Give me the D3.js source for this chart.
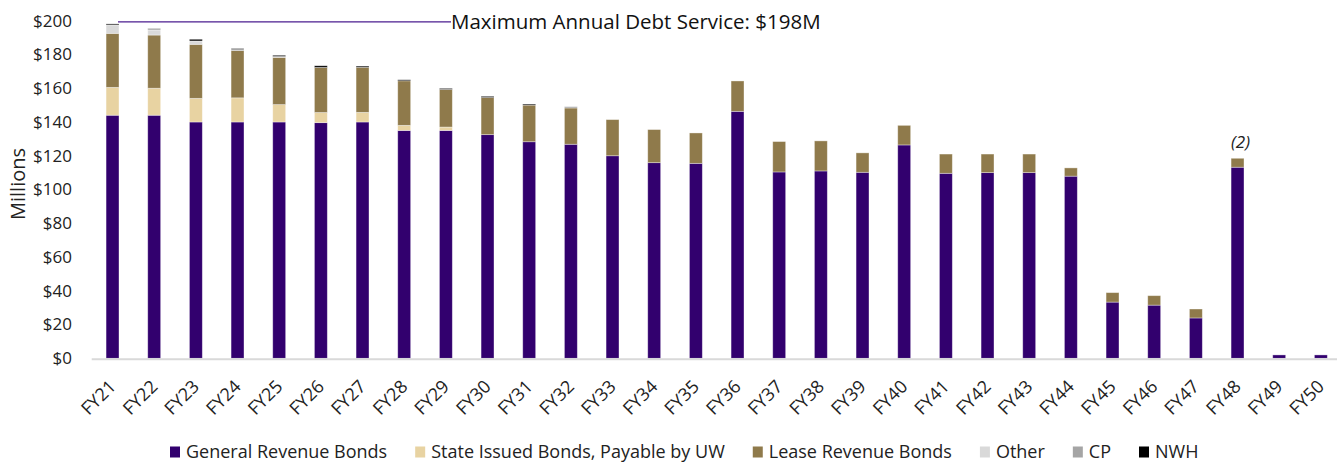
<!DOCTYPE html>
<html>
<head>
<meta charset="utf-8">
<script src="https://cdn.jsdelivr.net/npm/d3@7"></script>
<style>
  body { margin: 0; background: #fff; }
  svg { font-family: "Open Sans", "Noto Sans", sans-serif; }
</style>
</head>
<body>
<div id="chart"></div>
<script>
const years = ['FY21','FY22','FY23','FY24','FY25','FY26','FY27','FY28','FY29','FY30',
  'FY31','FY32','FY33','FY34','FY35','FY36','FY37','FY38','FY39','FY40',
  'FY41','FY42','FY43','FY44','FY45','FY46','FY47','FY48','FY49','FY50'];

const generalRevenue = [144,144,140,140,140,139.6,140,135,135,132.5,
  128.3,126.8,120,115.9,115.5,146.3,110.4,111,110.2,126.4,
  109.6,110,110,107.9,33.3,31.5,23.9,113.2,2,2];
const stateIssued = [16.5,16,14,14.3,10.3,6,5.7,3,2,0,
  0,0,0,0,0,0,0,0,0,0, 0,0,0,0,0,0,0,0,0,0];
const leaseRevenue = [32,31.5,32,28,28,26.7,26.7,26.4,22.3,22,
  21.7,21.5,21.4,19.6,18,18,18,17.8,11.5,11.6,
  11.4,11,11,4.9,5.6,5.6,5.3,5.3,0,0];
const other = [5,3,2,0,0.5,0,0,0,0,0, 0,0,0,0,0,0,0,0,0,0, 0,0,0,0,0,0,0,0,0,0];
const cp = [0,1,0,1.5,0,0,0,0,0,0, 0,0.8,0,0,0,0,0,0,0,0, 0,0,0,0,0,0,0,0,0,0];
const nwh = [0.6,0,1,0,0.7,1,0.7,0.6,0.6,0.7, 0.6,0,0,0,0,0,0,0,0,0, 0,0,0,0,0,0,0,0,0,0];

const seriesNames = ['General Revenue Bonds','State Issued Bonds, Payable by UW',
  'Lease Revenue Bonds','Other','CP','NWH'];
const seriesValues = [generalRevenue, stateIssued, leaseRevenue, other, cp, nwh];
const colors = ['#32006e','#e8d3a2','#8f7a4b','#d9d9d9','#a5a5a5','#000000'];
const yTicks = [0,20,40,60,80,100,120,140,160,180,200];
const annotationText = 'Maximum Annual Debt Service: $198M';
const noteYear = 'FY48', noteText = '(2)';

const width = 1337, height = 462;

const svg = d3.select('#chart').append('svg')
  .attr('width', width).attr('height', height);

const scaleX = d3.scaleBand(years, [91.7, 1341.7]).paddingInner(0.69).paddingOuter(0.345);
const scaleY = d3.scaleLinear([0, 200], [358.3, 20.7]);

// table for stacking
const table = years.map((y, i) => {
  const row = {year: y};
  seriesNames.forEach((s, k) => row[s] = seriesValues[k][i]);
  return row;
});
const stacked = d3.stack().keys(seriesNames)(table);

// bars
svg.append('g').selectAll('g.series')
  .data(stacked)
  .join('g')
  .attr('fill', (d, i) => colors[i])
  .selectAll('rect')
  .data(d => d.filter(p => p[1] - p[0] > 0))
  .join('rect')
  .attr('x', d => scaleX(d.data.year))
  .attr('width', scaleX.bandwidth())
  .attr('y', d => scaleY(d[1]))
  .attr('height', d => scaleY(d[0]) - scaleY(d[1]))
  .attr('stroke', 'rgba(255,255,255,0.45)')
  .attr('stroke-width', 0.8);

// y axis labels
const axisY = svg.append('g').attr('transform', 'translate(72,0)')
  .call(d3.axisLeft(scaleY).tickValues(yTicks).tickFormat(d => '$' + d).tickSize(0).tickPadding(0));
axisY.select('.domain').remove();
axisY.selectAll('text').attr('font-size', 17).attr('fill', '#222')
  .attr('font-family', '"Open Sans", sans-serif');

// x axis line
svg.append('line')
  .attr('x1', 91.7).attr('x2', width)
  .attr('y1', scaleY(0) + 1).attr('y2', scaleY(0) + 1)
  .attr('stroke', '#d9d9d9').attr('stroke-width', 2);

// x tick labels
svg.append('g').selectAll('text')
  .data(years)
  .join('text')
  .attr('transform', d => `translate(${scaleX(d) + scaleX.bandwidth() / 2},${scaleY(0) + 25}) rotate(-45)`)
  .attr('text-anchor', 'end')
  .attr('dy', '0.35em')
  .attr('font-size', 18)
  .attr('fill', '#222')
  .text(d => d);

// y title
svg.append('text')
  .attr('transform', `translate(18,${184}) rotate(-90)`)
  .attr('text-anchor', 'middle')
  .attr('dy', '0.35em')
  .attr('font-size', 20)
  .attr('fill', '#222')
  .text('Millions');

// max annotation
const maxTotal = d3.max(table, r => d3.sum(seriesNames, s => r[s]));
const firstYear = years[0];
svg.append('line')
  .attr('x1', scaleX(firstYear) + scaleX.bandwidth() - 1)
  .attr('x2', 451)
  .attr('y1', scaleY(maxTotal) - 2).attr('y2', scaleY(maxTotal) - 2)
  .attr('stroke', '#4b1d8f').attr('stroke-width', 1.2);
svg.append('text')
  .attr('x', 451).attr('y', scaleY(maxTotal) - 2)
  .attr('dy', '0.35em')
  .attr('font-size', 20.5)
  .attr('fill', '#111')
  .text(annotationText);

// note over FY48
const noteIdx = years.indexOf(noteYear);
const noteTop = d3.sum(seriesValues, s => s[noteIdx]);
svg.append('text')
  .attr('x', scaleX(noteYear) + scaleX.bandwidth() / 2 + 3)
  .attr('y', scaleY(noteTop) - 16)
  .attr('dy', '0.35em')
  .attr('text-anchor', 'middle')
  .attr('font-size', 17)
  .attr('font-style', 'italic')
  .attr('fill', '#222')
  .text(noteText);

// legend
const legend = svg.append('g').attr('transform', 'translate(170,452)');
let lx = 0;
seriesNames.forEach((name, i) => {
  const g = legend.append('g').attr('transform', `translate(${lx},0)`);
  g.append('rect').attr('x', 0).attr('y', -5.5).attr('width', 10).attr('height', 11)
    .attr('fill', colors[i]);
  const t = g.append('text').attr('x', 16).attr('dy', '0.35em')
    .attr('font-size', 18).attr('fill', '#222').text(name);
  lx += 16 + t.node().getComputedTextLength() + 28;
});
</script>
</body>
</html>
